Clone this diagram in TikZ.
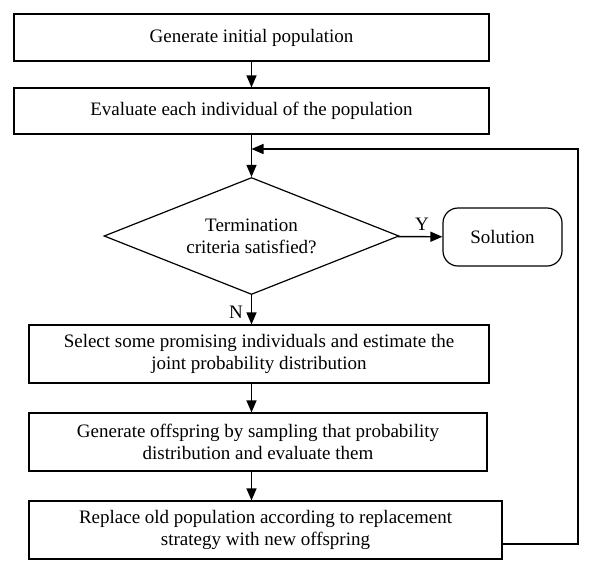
\documentclass[tikz,border=0pt]{standalone}
\usepackage{fontspec}
\setmainfont{Liberation Serif}
\usetikzlibrary{shapes.geometric}
\usetikzlibrary{arrows.meta}
\usetikzlibrary{calc}

\begin{document}
\begin{tikzpicture}[x=1pt,y=-1pt,font=\fontsize{19}{22}\selectfont,
  box/.style={draw,line width=1.2pt,align=center,inner sep=0pt},
  decision/.style={draw,diamond,line width=1.2pt,align=center,inner sep=0pt,aspect=2.5,minimum width=295pt,minimum height=117pt},
  terminal/.style={draw,rounded corners=15pt,line width=1.2pt,inner sep=0pt,minimum width=119pt,minimum height=58pt},
  arr/.style={line width=1.4pt,-{Triangle[length=12pt,width=10pt]}}]
\useasboundingbox (0,0) rectangle (596,574);
\node[box,minimum width=475pt,minimum height=47pt] (init) at (251.5,37.5) {Generate initial population};
\node[box,minimum width=475pt,minimum height=46pt] (eval) at (251.5,111) {Evaluate each individual of the population};
\node[decision] (term) at (251.5,236) {Termination\\criteria satisfied?};
\node[terminal] (sol) at (502.5,237) {Solution};
\node[box,minimum width=460pt,minimum height=58pt] (select) at (259,354) {Select some promising individuals and estimate the\\joint probability distribution};
\node[box,minimum width=458pt,minimum height=58pt] (gen) at (258,442) {Generate offspring by sampling that probability\\distribution and evaluate them};
\node[box,minimum width=473pt,minimum height=58pt] (repl) at (265.5,530) {Replace old population according to replacement\\strategy with new offspring};
\coordinate (loop) at (578,149);
\node (y) at (422,224) {Y};
\node (n) at (236,312) {N};
\draw[arr] (init) -- (eval);
\draw[arr] (eval) -- (term);
\draw[arr] (term) -- (sol);
\draw[arr] (term.south) -- (term.south |- select.north);
\draw[arr] (term.south |- select.south) -- (term.south |- gen.north);
\draw[arr] (term.south |- gen.south) -- (term.south |- repl.north);
\draw[arr] ([yshift=-14pt]repl.east) -| (loop) -- (eval.south |- loop);
\end{tikzpicture}
\end{document}
